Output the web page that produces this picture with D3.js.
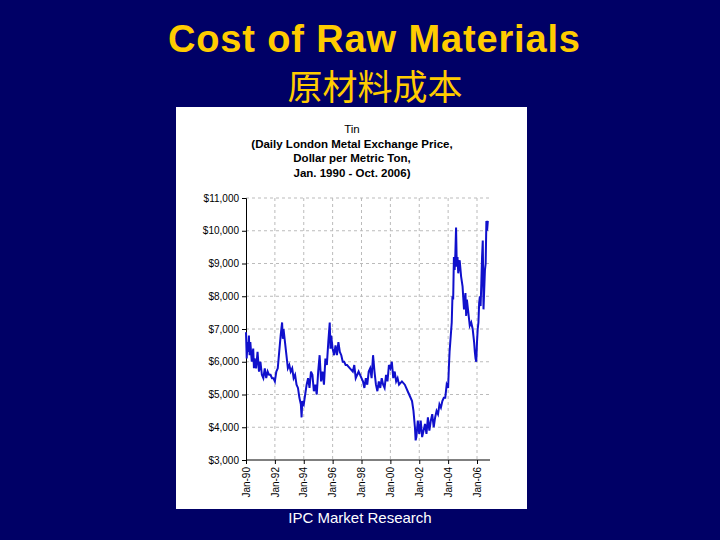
<!DOCTYPE html>
<html><head><meta charset="utf-8">
<script src="https://cdn.jsdelivr.net/npm/d3@7"></script>
<style>body{margin:0;background:#000066;}</style>
</head><body>
<svg id="c" width="720" height="540"></svg>
<script>
// tin price (year fraction, $/t)
var years = [1990.0,1990.05,1990.1,1990.15,1990.2,1990.25,1990.3,1990.4,1990.5,1990.55,1990.6,1990.7,1990.8,1990.9,1991.0,1991.1,1991.2,1991.3,1991.4,1991.5,1991.6,1991.7,1991.8,1991.9,1992.0,1992.1,1992.2,1992.3,1992.4,1992.5,1992.55,1992.6,1992.7,1992.8,1992.9,1993.0,1993.1,1993.2,1993.3,1993.4,1993.5,1993.6,1993.7,1993.8,1993.85,1993.9,1994.0,1994.1,1994.2,1994.3,1994.4,1994.5,1994.6,1994.7,1994.8,1994.9,1995.0,1995.1,1995.2,1995.3,1995.4,1995.5,1995.6,1995.7,1995.75,1995.8,1995.85,1995.9,1996.0,1996.1,1996.2,1996.3,1996.4,1996.5,1996.6,1996.7,1996.8,1996.9,1997.0,1997.2,1997.4,1997.5,1997.6,1997.8,1998.0,1998.1,1998.2,1998.3,1998.4,1998.5,1998.6,1998.7,1998.8,1998.9,1999.0,1999.1,1999.2,1999.3,1999.4,1999.5,1999.6,1999.7,1999.8,1999.9,2000.0,2000.1,2000.2,2000.3,2000.4,2000.5,2000.6,2000.8,2001.0,2001.2,2001.3,2001.4,2001.5,2001.6,2001.7,2001.75,2001.8,2001.9,2002.0,2002.1,2002.2,2002.3,2002.4,2002.5,2002.6,2002.7,2002.8,2002.9,2003.0,2003.1,2003.2,2003.3,2003.4,2003.5,2003.6,2003.7,2003.8,2003.9,2004.0,2004.05,2004.1,2004.15,2004.2,2004.25,2004.3,2004.35,2004.4,2004.45,2004.5,2004.55,2004.6,2004.65,2004.7,2004.8,2004.9,2005.0,2005.1,2005.2,2005.25,2005.3,2005.4,2005.5,2005.6,2005.7,2005.8,2005.85,2005.9,2005.95,2006.0,2006.05,2006.1,2006.15,2006.2,2006.25,2006.3,2006.35,2006.4,2006.45,2006.5,2006.55,2006.6,2006.65,2006.7,2006.75,2006.8];
var prices = [6900,6100,6600,6300,6800,6200,6600,6000,6400,5800,6100,5800,6300,5700,6000,5600,5500,5800,5500,5700,5600,5600,5500,5500,5400,5700,5800,6300,6800,7200,6700,7000,6600,6200,5800,5900,5700,5800,5500,5600,5300,5200,4900,4700,4300,4800,4700,5000,5300,5500,5200,5700,5600,5100,5300,5000,5700,6200,5400,5700,5300,6100,5900,6600,6900,7200,6400,6800,6400,6200,6500,6200,6600,6300,6200,6000,6000,5900,5900,5800,5700,5900,5500,5700,5500,5400,5200,5500,5300,5700,5800,5500,6200,5700,5300,5100,5400,5200,5500,5300,5200,5600,5400,5900,5800,6000,5500,5700,5400,5500,5300,5400,5300,5100,5000,4900,4800,4500,4000,3600,3700,4200,3800,4200,3700,3900,4100,3800,4300,3900,4200,4400,4000,4300,4500,4400,4700,4600,4800,4900,4900,5300,5200,5800,6300,6600,6900,7200,8000,7900,9200,8800,9300,10100,8900,9200,8700,9100,8600,8300,7600,8100,7400,7900,7500,7100,7200,7000,6600,6300,6100,6000,6600,7000,7200,7800,8000,7700,8400,9200,9700,7600,8200,8800,9000,10300,10000,10300];
var yTicks = [3000,4000,5000,6000,7000,8000,9000,10000,11000];
var xTicks = [1990,1992,1994,1996,1998,2000,2002,2004,2006];
var titleLines = ["Tin","(Daily London Metal Exchange Price,","Dollar per Metric Ton,","Jan. 1990 - Oct. 2006)"];

var svg = d3.select("#c");
var font = "Arial, 'Liberation Sans', sans-serif";

svg.append("text").attr("x",374).attr("y",52).attr("text-anchor","middle")
  .attr("font-family",font).attr("font-weight","bold").attr("font-size",38)
  .attr("textLength",412).attr("fill","#FFCC00").text("Cost of Raw Materials");
svg.append("text").attr("x",375).attr("y",100).attr("text-anchor","middle")
  .attr("font-family","'Noto Sans CJK SC', sans-serif").attr("font-size",35)
  .attr("fill","#FFCC00").text("原材料成本");
svg.append("text").attr("x",360).attr("y",523).attr("text-anchor","middle")
  .attr("font-family",font).attr("font-size",15).attr("fill","#ffffff").text("IPC Market Research");

// white panel
svg.append("rect").attr("x",176).attr("y",107).attr("width",351).attr("height",402).attr("fill","#fff");

titleLines.forEach(function(t,i){
  svg.append("text").attr("x",352).attr("y",133+i*14.5).attr("text-anchor","middle")
    .attr("font-family",font).attr("font-weight",i==0?"normal":"bold").attr("font-size",11.5)
    .attr("fill","#000").text(t);
});

var x = d3.scaleLinear().domain([1990,2006]).range([246,477]);
var y = d3.scaleLinear().domain([3000,11000]).range([460,198]);

var g = svg.append("g");
// grid
g.selectAll(".hg").data(yTicks.slice(1)).enter().append("line")
  .attr("x1",246).attr("x2",490).attr("y1",function(d){return y(d);}).attr("y2",function(d){return y(d);})
  .attr("stroke","#bbb").attr("stroke-dasharray","3,3");
g.selectAll(".vg").data(xTicks.slice(1)).enter().append("line")
  .attr("y1",198).attr("y2",460).attr("x1",function(d){return x(d);}).attr("x2",function(d){return x(d);})
  .attr("stroke","#bbb").attr("stroke-dasharray","3,3");

var yAxis = svg.append("g").attr("transform","translate(246,0)")
  .call(d3.axisLeft(y).tickValues(yTicks).tickSize(4).tickFormat(function(d){return "$"+d3.format(",")(d);}));
var xAxis = svg.append("g").attr("transform","translate(0,460)")
  .call(d3.axisBottom(x).tickValues(xTicks).tickSize(4).tickFormat(function(d){return "Jan-"+String(d).slice(2);}));
xAxis.select(".domain").attr("d","M246,0H490");
[yAxis,xAxis].forEach(function(a){
  a.selectAll("text").attr("font-family",font).attr("font-size",10).attr("fill","#000");
  a.selectAll("line,path").attr("stroke","#000");
});
xAxis.selectAll("text").attr("transform","rotate(-90)").attr("text-anchor","end")
  .attr("dy","0.32em").attr("dx",0).attr("y",0).attr("x",-7);

var pts = years.map(function(d,i){return [d,prices[i]];});
svg.append("path").datum(pts)
  .attr("d",d3.line().x(function(d){return x(d[0]);}).y(function(d){return y(d[1]);}))
  .attr("fill","none").attr("stroke","#1010cc").attr("stroke-width",2);
</script>
</body></html>
